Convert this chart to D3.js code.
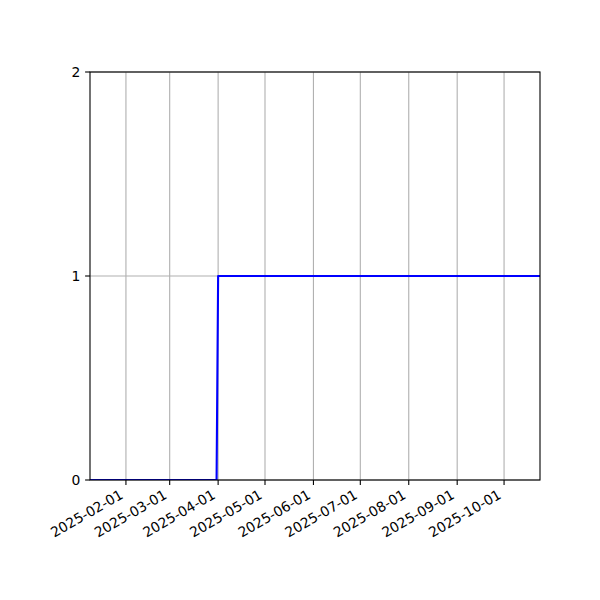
<!DOCTYPE html>
<html><head><meta charset="utf-8">
<script src="https://cdn.jsdelivr.net/npm/d3@7"></script>
<style>body{margin:0;background:#fff}svg{display:block}text{font-family:"DejaVu Sans",sans-serif;font-size:13.9px;fill:#000}</style>
</head><body>
<svg id="c" width="600" height="600"></svg>
<script>
const stepDates = ["2025-01-09","2025-03-31","2025-04-01","2025-10-24"];
const stepValues = [0, 0, 1, 1];
const xDomain = ["2025-01-09","2025-10-24"];
const xTickLabels = ["2025-02-01","2025-03-01","2025-04-01","2025-05-01","2025-06-01","2025-07-01","2025-08-01","2025-09-01","2025-10-01"];
const yTicks = [0, 1, 2];

const parse = d3.utcParse("%Y-%m-%d");
const L = 90, R = 540, T = 72, B = 480;
const svg = d3.select("#c");
const x = d3.scaleUtc().domain(xDomain.map(parse)).range([L, R]);
const y = d3.scaleLinear().domain([0, 2]).range([B, T]);

// grid
const g = svg.append("g");
g.selectAll(".gx").data(xTickLabels).enter().append("line")
  .attr("x1", d => x(parse(d))).attr("x2", d => x(parse(d)))
  .attr("y1", T).attr("y2", B).attr("stroke", "#b0b0b0").attr("stroke-width", 1.1);
g.selectAll(".gy").data(yTicks).enter().append("line")
  .attr("x1", L).attr("x2", R).attr("y1", d => y(d)).attr("y2", d => y(d))
  .attr("stroke", "#b0b0b0").attr("stroke-width", 1.1);

svg.append("clipPath").attr("id", "clip").append("rect")
  .attr("x", L).attr("y", T).attr("width", R - L).attr("height", B - T);

const pts = stepDates.map((d, i) => [parse(d), stepValues[i]]);
svg.append("path").attr("clip-path", "url(#clip)")
  .attr("d", d3.line().x(d => x(d[0])).y(d => y(d[1]))(pts))
  .attr("fill", "none").attr("stroke", "#0000ff").attr("stroke-width", 2.1)
  .attr("stroke-linejoin", "round");

// spines
svg.append("rect").attr("x", L).attr("y", T).attr("width", R - L).attr("height", B - T)
  .attr("fill", "none").attr("stroke", "#000").attr("stroke-width", 1.1);

// x axis ticks
const xa = svg.append("g");
xTickLabels.forEach(d => {
  const px = x(parse(d));
  xa.append("line").attr("x1", px).attr("x2", px).attr("y1", B).attr("y2", B + 4.9)
    .attr("stroke", "#000").attr("stroke-width", 1.1);
  xa.append("text").attr("text-anchor", "end")
    .attr("transform", `translate(${px - 1.8},${497.5}) rotate(-30)`).text(d);
});
// y axis
yTicks.forEach(v => {
  const py = y(v);
  svg.append("line").attr("x1", L - 4.9).attr("x2", L).attr("y1", py).attr("y2", py)
    .attr("stroke", "#000").attr("stroke-width", 1.1);
  svg.append("text").attr("text-anchor", "end").attr("x", L - 9.7).attr("y", py)
    .attr("dy", "0.36em").text(v);
});
</script>
</body></html>
